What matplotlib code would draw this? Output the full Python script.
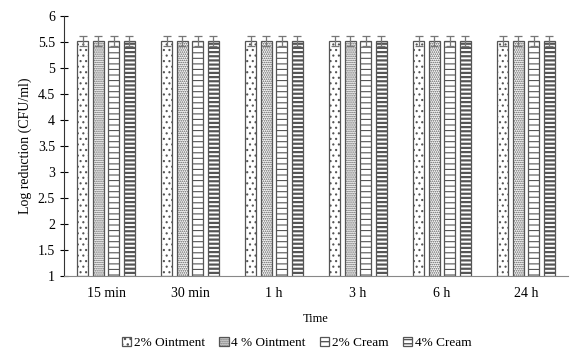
import matplotlib.pyplot as plt
import numpy as np

plt.rcParams['font.family'] = ['Liberation Serif', 'DejaVu Serif']

times = ['15 min', '30 min', '1 h', '3 h', '6 h', '24 h']
series = ['2% Ointment', '4 % Ointment', '2% Cream', '4% Cream']
ointment_2 = [5.52, 5.52, 5.52, 5.52, 5.52, 5.52]
ointment_4 = [5.52, 5.52, 5.52, 5.52, 5.52, 5.52]
cream_2 = [5.52, 5.52, 5.52, 5.52, 5.52, 5.52]
cream_4 = [5.52, 5.52, 5.52, 5.52, 5.52, 5.52]
errors = [0.1, 0.1, 0.1, 0.1, 0.1, 0.1]

values = [ointment_2, ointment_4, cream_2, cream_4]
hatches = ['...', '........', '---', '----']
hatch_lw = [0.8, 0.8, 0.8, 1.6]

fig = plt.figure(figsize=(5.82, 3.56), dpi=100)
ax = fig.add_axes([0.11, 0.225, 0.866, 0.73])

x = np.arange(len(times))
w = 0.135
step = 0.185
for i, (vals, h, lab) in enumerate(zip(values, hatches, series)):
    pos = x + (i - 1.5) * step
    with plt.rc_context({'hatch.linewidth': hatch_lw[i], 'hatch.color': 'black'}):
        ax.bar(pos, np.array(vals) - 1, bottom=1, width=w, color='white',
               edgecolor='#555555', linewidth=0.9, hatch=h, label=lab,
               yerr=errors, error_kw=dict(ecolor='#777777', elinewidth=0.9, capsize=3, capthick=0.9))

ax.set_ylim(1, 6)
ax.set_xlim(-0.5, len(times) - 0.5)
ax.set_yticks(np.arange(1, 6.01, 0.5))
ax.set_yticklabels(['1', '1.5', '2', '2.5', '3', '3.5', '4', '4.5', '5', '5.5', '6'])
ax.set_xticks(x)
ax.set_xticklabels(times)
ax.tick_params(axis='x', length=0, labelsize=10, pad=8)
ax.tick_params(axis='y', direction='inout', length=6, width=0.8, labelsize=10)
ax.spines['top'].set_visible(False)
ax.spines['right'].set_visible(False)
ax.spines['left'].set_color('#333333')
ax.spines['bottom'].set_color('#888888')
ax.set_xlabel('Time', fontsize=9, labelpad=9)
ax.set_ylabel('Log reduction (CFU/ml)', fontsize=10)

fig.legend(loc='lower center', ncol=4, frameon=False, fontsize=9.5,
           bbox_to_anchor=(0.51, -0.015), handlelength=0.7, handleheight=0.7,
           handletextpad=0.2, columnspacing=1.1)

fig.savefig('out.png', dpi=100)
